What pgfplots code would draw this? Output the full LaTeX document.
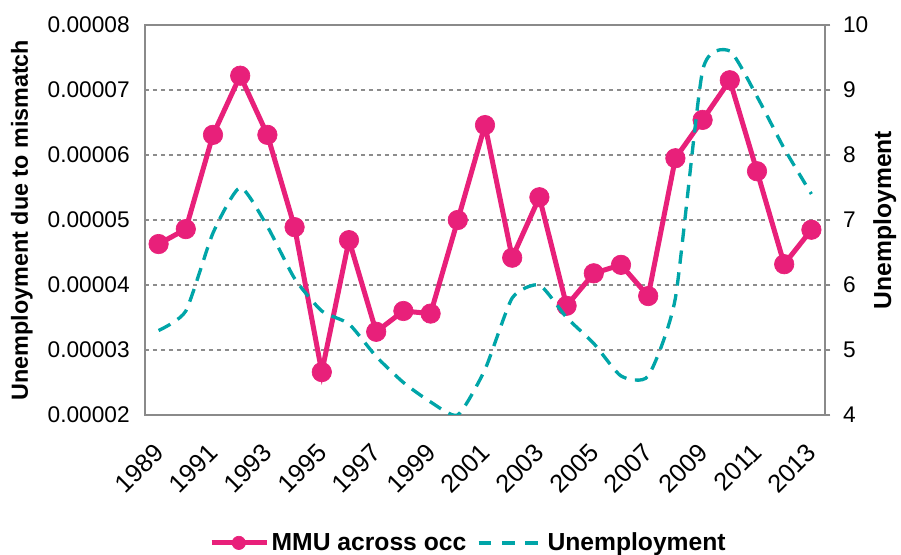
\documentclass[border=0pt]{standalone}
\usepackage{pgfplots}
\pgfplotsset{compat=1.18}
\usepackage{fontspec}
\setmainfont{Liberation Sans}
\definecolor{mmu}{HTML}{E8207A}
\definecolor{unemp}{HTML}{00A5A8}
\definecolor{framec}{HTML}{8A8A8A}
\definecolor{gridc}{HTML}{8C8C8C}

\pgfplotstableread{
year mmu
1989 0.0000463
1990 0.0000486
1991 0.0000631
1992 0.0000722
1993 0.0000631
1994 0.0000489
1995 0.0000266
1996 0.0000469
1997 0.0000328
1998 0.0000360
1999 0.0000356
2000 0.0000500
2001 0.0000646
2002 0.0000442
2003 0.0000535
2004 0.0000368
2005 0.0000418
2006 0.0000431
2007 0.0000383
2008 0.0000595
2009 0.0000654
2010 0.0000715
2011 0.0000575
2012 0.0000432
2013 0.0000485
}\mmudata

\pgfplotstableread{
year unemp
1989 5.3
1990 5.6
1991 6.8
1992 7.5
1993 6.9
1994 6.1
1995 5.6
1996 5.4
1997 4.9
1998 4.5
1999 4.2
2000 4.0
2001 4.7
2002 5.8
2003 6.0
2004 5.5
2005 5.1
2006 4.6
2007 4.6
2008 5.8
2009 9.3
2010 9.6
2011 8.9
2012 8.1
2013 7.4
}\unempdata

\begin{document}
\begin{tikzpicture}
\useasboundingbox (-108.75pt,-105pt) rectangle (567pt,311.25pt);
\begin{axis}[
  at={(0,0)}, anchor=south west,
  scale only axis, width=510pt, height=292.5pt,
  xmin=1988.5, xmax=2013.5,
  ymin=0.00002, ymax=0.00008,
  scaled y ticks=false,
  xtick={1989,1991,1993,1995,1997,1999,2001,2003,2005,2007,2009,2011,2013},
  xticklabels={1989,1991,1993,1995,1997,1999,2001,2003,2005,2007,2009,2011,2013},
  ytick={0.00002,0.00003,0.00004,0.00005,0.00006,0.00007,0.00008},
  yticklabels={0.00002,0.00003,0.00004,0.00005,0.00006,0.00007,0.00008},
  major tick length=0pt,
  axis line style={framec, line width=1.3pt},
  ymajorgrids,
  grid style={gridc, dashed, line width=0.9pt},
  tick label style={font=\fontsize{17}{17}\selectfont},
  xticklabel style={xshift=-4.5pt, yshift=-15pt, rotate=45, anchor=north east, font=\fontsize{19}{19}\selectfont},
  yticklabel style={xshift=-8pt},
  ylabel={\bfseries Unemployment due to mismatch},
  ylabel style={at={(axis description cs:-0.181,0.5)}, anchor=center, font=\fontsize{17.5}{17.5}\selectfont},
]
\addplot[mmu, line width=3.75pt, mark=*, mark size=7.3pt, mark options={solid, line width=0.5pt, fill=mmu}] table[x=year, y=mmu] {\mmudata};
\end{axis}
\begin{axis}[
  at={(0,0)}, anchor=south west,
  scale only axis, width=510pt, height=292.5pt,
  xmin=1988.5, xmax=2013.5,
  ymin=4, ymax=10,
  axis x line=none,
  axis y line*=right,
  ytick={4,5,6,7,8,9,10},
  yticklabels={4,5,6,7,8,9,10},
  tick align=outside,
  major tick length=4pt,
  tick style={framec, line width=1.3pt},
  axis line style={framec, line width=1.3pt},
  tick label style={font=\fontsize{17}{17}\selectfont},
  yticklabel style={xshift=6pt},
  ylabel={\bfseries Unemployment},
  ylabel style={at={(axis description cs:1.088,0.5)}, anchor=center, rotate=0, font=\fontsize{18.5}{18.5}\selectfont},
  legend style={at={(axis description cs:0.476,-0.328)}, anchor=center, draw=none, fill=none,
    legend columns=2, font=\bfseries\fontsize{18.5}{18.5}\selectfont,
    /tikz/every even column/.append style={column sep=6pt}},
  legend cell align=left,
]
\addlegendimage{mmu, line width=3.75pt, mark=*, mark size=5pt, mark options={solid, line width=0.5pt, fill=mmu},
  legend image code/.code={\draw[mark repeat=2, mark phase=2] plot coordinates {(0cm,0cm) (0.72cm,0cm) (1.45cm,0cm)};}}
\addlegendentry{MMU across occ}
\addplot[unemp, line width=2.5pt, dash pattern=on 10pt off 6.5pt, smooth, tension=0.35,
  legend image code/.code={\draw[dash pattern=on 9.5pt off 8pt] (0cm,0cm) -- (1.7cm,0cm);}] table[x=year, y=unemp] {\unempdata};
\addlegendentry{Unemployment}
\end{axis}
\end{tikzpicture}
\end{document}
